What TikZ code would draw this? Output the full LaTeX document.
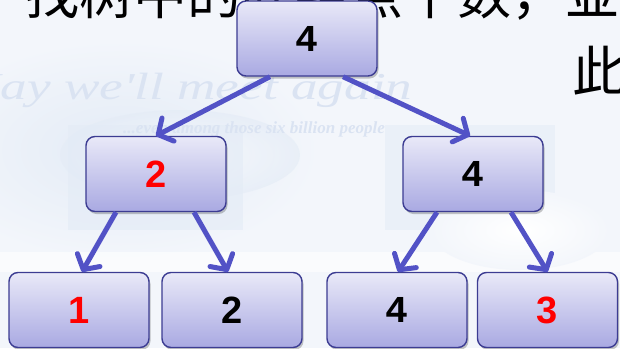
\documentclass[tikz,border=0pt]{standalone}
\usepackage{fontspec}
\setmainfont{Liberation Sans}
\newfontfamily\cjk{Noto Sans CJK SC}
\newfontfamily\monob{Liberation Mono}
\newfontfamily\wmfont{Liberation Serif}
\usetikzlibrary{arrows.meta,shadows}
\definecolor{arrowblue}{HTML}{5252C6}
\definecolor{boxline}{HTML}{3C3C92}
\definecolor{boxtop}{HTML}{E9E9F8}
\definecolor{boxbot}{HTML}{A9A9E2}
\definecolor{numred}{HTML}{FF0000}
\definecolor{wm}{HTML}{DAE3F2}
\definecolor{bgmain}{HTML}{F3F6FB}
\definecolor{bgblue}{HTML}{E3EBF6}
\begin{document}
\begin{tikzpicture}[x=1pt,y=-1pt,
  box/.style={draw=boxline, line width=1.4pt, rounded corners=9pt,
    minimum width=140pt, minimum height=75pt, inner sep=0pt,
    top color=boxtop, bottom color=boxbot,
    drop shadow={shadow xshift=1.5pt,shadow yshift=-2.5pt,opacity=0.22,fill=black},
    font=\bfseries\fontsize{38}{38}\selectfont},
  conn/.style={draw=arrowblue, line width=5pt,
    -{Straight Barb[length=11pt,width=26pt,round]}},
  wmark/.style={text=wm, inner sep=0pt, anchor=base west},
  cjktext/.style={inner sep=0pt, anchor=base west, font=\cjk\fontsize{54}{54}\selectfont}
]
\useasboundingbox (0,0) rectangle (620,348);
\clip (0,0) rectangle (620,348);
% background sky
\fill[bgmain] (0,0) rectangle (620,348);
\shade[inner color=bgblue, outer color=bgmain] (120,150) ellipse (200 and 110);
\shade[inner color=white, outer color=bgblue, opacity=0.6] (180,155) ellipse (120 and 45);
\fill[bgblue, opacity=0.6] (68,125) rectangle (243,230);
\fill[bgblue, opacity=0.5] (385,125) rectangle (555,230);
\fill[white, opacity=0.6] (0,252) rectangle (620,272);
\shade[inner color=white, outer color=bgmain] (520,230) ellipse (90 and 40);
% watermark
\node[wmark, font=\wmfont\itshape\fontsize{38}{38}\selectfont, xscale=1.4, transform shape] (w1) at (-44,99) {May we'll meet again};
\node[wmark, font=\wmfont\bfseries\itshape\fontsize{17}{17}\selectfont] (w2) at (123,133) {...even among those six billion people};
% heading text
\node[cjktext] (t1) at (25,14) {找树中的叶结点个数，並};
\node[cjktext] (t2) at (572,91) {此};
% tree
\node[box] (r)  at (307,38.5) {\monob 4};
\node[box] (ml) at (156,174) {\textcolor{numred}{2}};
\node[box] (mr) at (473,174) {\monob 4};
\node[box] (b1) at (79,310) {\textcolor{numred}{1}};
\node[box] (b2) at (232,310) {2};
\node[box] (b3) at (397,310) {\monob 4};
\node[box] (b4) at (547.5,310) {\textcolor{numred}{3}};
% connectors
\draw[conn] ([xshift=-37pt]r.south) -- (ml.north);
\draw[conn] ([xshift=36pt]r.south) -- ([xshift=-3pt]mr.north);
\draw[conn] ([xshift=-40pt]ml.south) -- ([xshift=3pt]b1.north);
\draw[conn] ([xshift=38pt]ml.south) -- ([xshift=-4pt]b2.north);
\draw[conn] ([xshift=-36pt]mr.south) -- ([xshift=1pt]b3.north);
\draw[conn] ([xshift=38pt]mr.south) -- ([xshift=0pt]b4.north);
\end{tikzpicture}
\end{document}
